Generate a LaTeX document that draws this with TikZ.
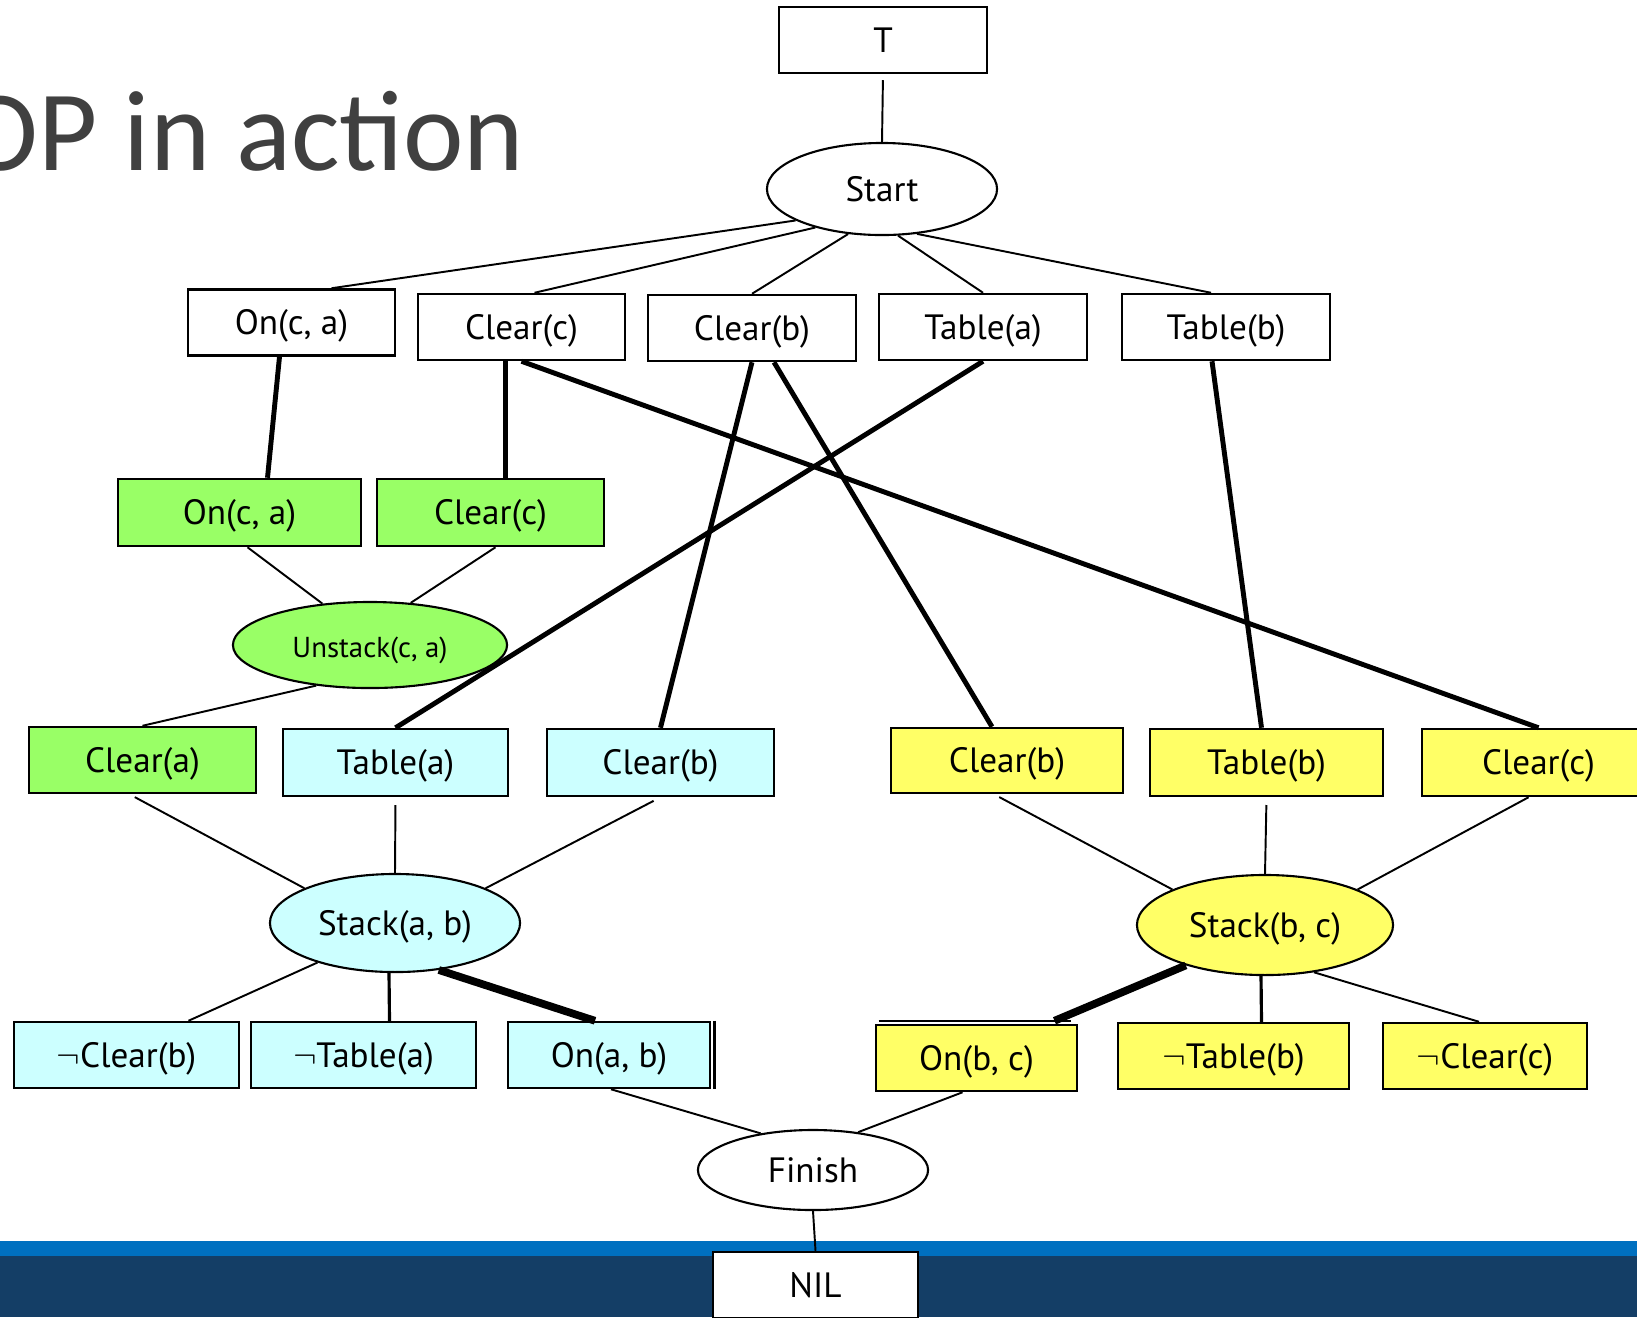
\documentclass[tikz,border=0pt]{standalone}
\usepackage{fontspec}
\setmainfont{PT Sans}
\newfontfamily\titlefont{Carlito}
\usetikzlibrary{shapes.geometric,calc}
\definecolor{litgreen}{RGB}{153,255,102}
\definecolor{litcyan}{RGB}{204,255,255}
\definecolor{lityellow}{RGB}{255,255,102}
\definecolor{bandblue}{RGB}{0,112,192}
\definecolor{banddark}{RGB}{20,62,102}
\definecolor{titlegray}{RGB}{64,64,64}

\tikzset{
  lit/.style={draw, rectangle, fill=white, line width=0.7pt, inner sep=0pt,
    minimum height=0.66cm, text height=0.8em, text depth=0.1em,
    font=\fontsize{10}{12}\selectfont},
  act/.style={draw, ellipse, fill=white, line width=0.6pt, inner sep=0pt,
    text height=0.8em, text depth=0.1em, font=\fontsize{10}{12}\selectfont},
  link/.style={line width=0.55pt},
  midlink/.style={line width=0.9pt},
  support/.style={line width=1.4pt},
  strong/.style={line width=2.2pt}
}

\begin{document}
\begin{tikzpicture}[x=0.01cm,y=-0.01cm]
\useasboundingbox (0,0) rectangle (1637,1317);
% footer band
\fill[banddark] (0,1256) rectangle (1637,1317);
\fill[bandblue] (0,1241) rectangle (1637,1256);

\node[anchor=base east, inner sep=0pt, text=titlegray, font=\titlefont\fontsize{32.6}{36}\selectfont] (title) at (525,170) {OP in action};

% start and finish
\node[lit, minimum width=2.08cm] (t) at (883,40) {T};
\node[act, minimum width=2.30cm, minimum height=0.92cm] (start) at (882,189) {Start};
\node[act, minimum width=2.30cm, minimum height=0.80cm] (finish) at (813,1170) {Finish};
\node[lit, minimum width=2.05cm] (nil) at (815.5,1285) {NIL};

% effects of start
\node[lit, minimum width=2.07cm] (onca) at (291.5,322.5) {On(c, a)};
\node[lit, minimum width=2.07cm] (clrc) at (521.5,327) {Clear(c)};
\node[lit, minimum width=2.08cm] (clrb) at (752,328) {Clear(b)};
\node[lit, minimum width=2.08cm] (taba) at (983,327) {Table(a)};
\node[lit, minimum width=2.08cm] (tabb) at (1226,327) {Table(b)};

% unstack(c,a)
\node[lit, fill=litgreen, minimum width=2.43cm, minimum height=0.67cm] (oncag) at (239.5,512.5) {On(c, a)};
\node[lit, fill=litgreen, minimum width=2.27cm, minimum height=0.67cm] (clrcg) at (490.5,512.5) {Clear(c)};
\node[act, fill=litgreen, minimum width=2.74cm, minimum height=0.86cm, font=\fontsize{8.2}{10}\selectfont] (unstack) at (370,645) {Unstack(c, a)};
\node[lit, fill=litgreen, minimum width=2.27cm] (clrag) at (142.5,760) {Clear(a)};

% stack(a,b)
\node[lit, fill=litcyan, minimum width=2.25cm, minimum height=0.67cm] (tabac) at (395.5,762.5) {Table(a)};
\node[lit, fill=litcyan, minimum width=2.27cm, minimum height=0.67cm] (clrbc) at (660.5,762.5) {Clear(b)};
\node[act, fill=litcyan, minimum width=2.50cm, minimum height=0.98cm] (stackab) at (395,923) {Stack(a, b)};
\node[lit, fill=litcyan, minimum width=2.25cm] (nclrb) at (126.5,1055) {$\neg$Clear(b)};
\node[lit, fill=litcyan, minimum width=2.25cm] (ntaba) at (363.5,1055) {$\neg$Table(a)};
\node[lit, fill=litcyan, minimum width=2.02cm] (onab) at (609,1055) {On(a, b)};
\draw[line width=0.7pt] ($(onab.north east)+(3,0)$) -- ($(onab.south east)+(3,0)$);

% stack(b,c)
\node[lit, fill=lityellow, minimum width=2.32cm, minimum height=0.65cm] (clrby) at (1007,760.5) {Clear(b)};
\node[lit, fill=lityellow, minimum width=2.33cm, minimum height=0.67cm] (tabby) at (1266.5,762.5) {Table(b)};
\node[lit, fill=lityellow, minimum width=2.33cm, minimum height=0.67cm] (clrcy) at (1538.5,762.5) {Clear(c)};
\node[act, fill=lityellow, minimum width=2.56cm, minimum height=1.00cm] (stackbc) at (1265,925) {Stack(b, c)};
\node[lit, fill=lityellow, minimum width=2.01cm] (onbc) at (976.5,1058) {On(b, c)};
\draw[line width=0.7pt] ($(onbc.north west)+(4,-3)$) -- ($(onbc.north east)+(-7,-3)$);
\node[lit, fill=lityellow, minimum width=2.31cm] (ntabb) at (1233.5,1056) {$\neg$Table(b)};
\node[lit, fill=lityellow, minimum width=2.04cm] (nclrc) at (1485,1056) {$\neg$Clear(c)};

% ordering links
\draw[link, shorten <=1.7pt] (t.south) -- (start.north);
\draw[link] (start.200) -- ($(onca.north)+(40,0)$);
\draw[link] (start.210) -- ($(clrc.north)+(13,0)$);
\draw[link] (start.233) -- (clrb.north);
\draw[link] (start.289) -- (taba.north);
\draw[link] (start.308) -- ($(tabb.north)+(-15,0)$);
\draw[link] ($(oncag.south)+(8,0)$) -- (unstack.139);
\draw[link] ($(clrcg.south)+(5,0)$) -- (unstack.46);
\draw[link] (unstack.217) -- (clrag.north);
\draw[link, shorten <=1.7pt] ($(clrag.south)+(-13,0)$) -- (stackab.159);
\draw[link, shorten <=2.2pt] (tabac.south) -- (stackab.north);
\draw[link, shorten <=2.2pt] (clrbc.south) -- (stackab.21);
\draw[link, shorten <=1.7pt] ($(clrby.south)+(-13,0)$) -- (stackbc.159);
\draw[link, shorten <=2.2pt] (tabby.south) -- (stackbc.north);
\draw[link] ($(clrcy.south)+(-10,0)$) -- (stackbc.21);
\draw[link] (stackab.207) -- ($(nclrb.north)+(62,0)$);
\draw[link] (stackbc.316) -- ($(nclrc.north)+(-6,0)$);
\draw[link] ($(onab.south)+(2,0)$) -- (finish.145);
\draw[link] ($(onbc.south)+(-14,0)$) -- (finish.40);
\draw[link] (finish.south) -- (nil.north);
\draw[midlink] ($(stackab.south)+(-6,0)$) -- ($(ntaba.north)+(26,0)$);
\draw[midlink] ($(stackbc.south)+(-4,0)$) -- ($(ntabb.north)+(28,0)$);

% causal links
\draw[support] ($(onca.south)+(-12,0)$) -- ($(oncag.north)+(28,0)$);
\draw[support] ($(clrc.south)+(-16,0)$) -- ($(clrcg.north)+(15,0)$);
\draw[support] (clrc.south) -- (clrcy.north);
\draw[support] (clrb.south) -- (clrbc.north);
\draw[support] ($(clrb.south)+(22,0)$) -- ($(clrby.north)+(-15,0)$);
\draw[support] (taba.south) -- (tabac.north);
\draw[support] ($(tabb.south)+(-14,0)$) -- ($(tabby.north)+(-5,0)$);
\draw[strong] (stackab.313) -- ($(onab.north)+(-14,0)$);
\draw[strong] (stackbc.207) -- ($(onbc.north)+(78,-3)$);
\end{tikzpicture}
\end{document}
